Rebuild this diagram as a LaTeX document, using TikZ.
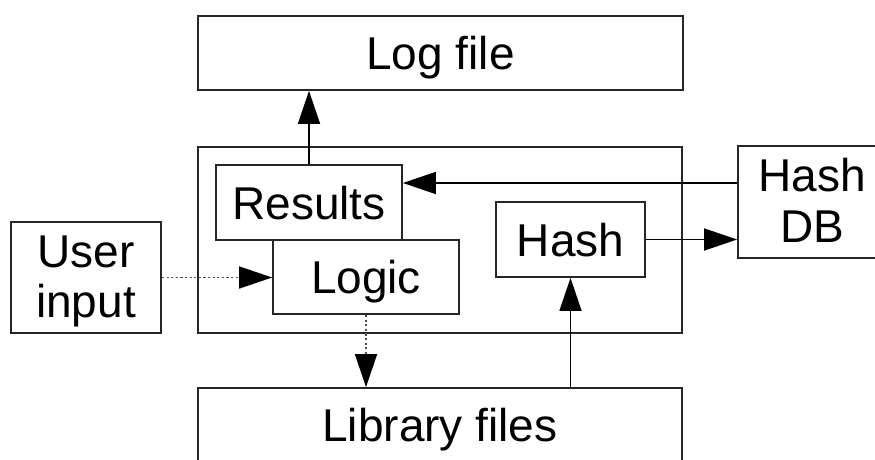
\documentclass[tikz,border=0pt]{standalone}
\usepackage{fontspec}
\setmainfont{Liberation Sans}
\usetikzlibrary{arrows.meta}
\begin{document}
\begin{tikzpicture}[x=1pt,y=-1pt,
  box/.style={draw=black!85, line width=1.8pt, inner sep=0pt, fill=white,
    font=\fontsize{46}{50.5}\selectfont, text height=33pt, text depth=0pt},
  twoline/.style={box, align=center, text height=80pt, text depth=0pt},
  link/.style={line width=1.7pt, -{Triangle[length=33pt,width=22pt]}},
  dotlink/.style={line width=1.7pt, draw=black!70, dash pattern=on 2.2pt off 2.4pt,
    -{Triangle[length=33pt,width=22pt,color=black]}}]
\useasboundingbox (0,0) rectangle (875,459);
\clip (0,0) rectangle (875,459);

% outer boxes
\node[box, minimum width=485pt, minimum height=74pt] (logf) at (440.5,53) {Log file};
\node[draw=black!85, line width=1.8pt, minimum width=484pt, minimum height=186pt] (main) at (440,240) {};
\node[box, minimum width=484pt, minimum height=74pt] (lib) at (440,425) {Library files};
\node[twoline, minimum width=150pt, minimum height=111pt] (user) at (86,277.5) {User\\input};
\node[twoline, minimum width=148pt, minimum height=112pt] (hashdb) at (812,202) {Hash\\DB};

% inner boxes
\node[box, minimum width=186pt, minimum height=75pt] (res) at (309,202.5) {Results};
\node[box, minimum width=186pt, minimum height=74pt] (logic) at (366,277) {Logic};
\node[box, minimum width=149pt, minimum height=75pt] (hash) at (570.5,239.5) {Hash};

% connectors
\coordinate (dbrow) at (0,183);
\draw[link] (res.north) -- (logf.south -| res.north);
\draw[link] (hashdb.west |- dbrow) -- (res.east |- dbrow);
\draw[link] (hash.east) -- (hash.east -| hashdb.west);
\draw[dotlink] (user.east) -- (user.east -| logic.west);
\draw[dotlink] (logic.south) -- (logic.south |- lib.north);
\draw[link] (hash.south |- lib.north) -- (hash.south);
\end{tikzpicture}
\end{document}
